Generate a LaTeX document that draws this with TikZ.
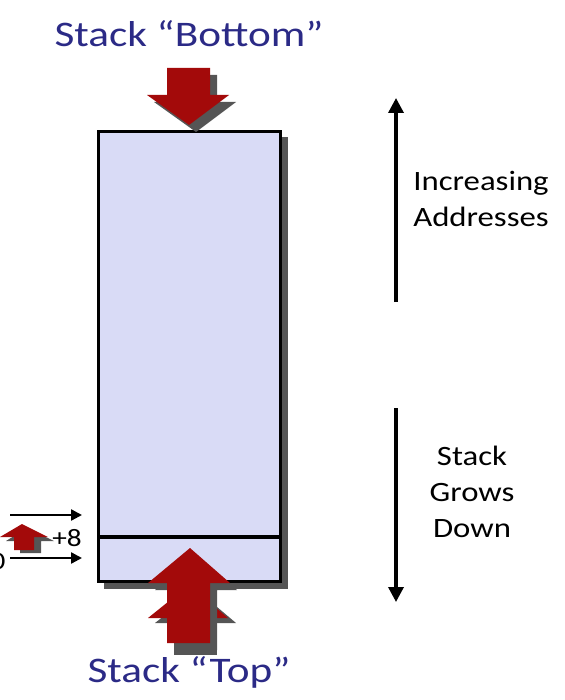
\documentclass[tikz,border=0pt]{standalone}
\usepackage{fontspec}
\setmainfont{Carlito}
\newfontfamily\widefont[FakeStretch=1.17]{Carlito}
\newfontfamily\titlefont[FakeStretch=1.2]{Carlito}
\usetikzlibrary{arrows.meta}
\definecolor{stackfill}{HTML}{D9DBF6}
\definecolor{darkred}{HTML}{A30A0A}
\definecolor{shadowgray}{HTML}{555555}
\definecolor{titleblue}{HTML}{2B2A86}
\tikzset{
  stackbox/.style={draw=black, line width=3.2pt, fill=stackfill, inner sep=0pt},
  shadowbox/.style={fill=shadowgray, draw=none},
  redarrow/.style={fill=darkred, draw=none},
  shadowarrow/.style={fill=shadowgray, draw=none},
  title/.style={text=titleblue, font=\titlefont\fontsize{36}{40}\selectfont, inner sep=0pt},
  sidetext/.style={font=\widefont\fontsize{28}{36}\selectfont, align=center, inner sep=0pt},
  bigarrow/.style={line width=3.4pt, -{Triangle[length=15pt,width=15pt]}},
  smallarrow/.style={line width=2.4pt, -{Triangle[length=11pt,width=11pt]}},
}
\begin{document}
\begin{tikzpicture}[x=1pt,y=-1pt]
\useasboundingbox (0,0) rectangle (564,700);
% rectangle shadow
\fill[shadowbox] (104,137) rectangle (288,589);
\node (stack) [stackbox, minimum width=182pt, minimum height=450pt, anchor=north west] at (97,130) {};
\coordinate (divL) at (97,537);
\coordinate (divR) at (279,537);
\draw[line width=3.2pt] (divL) -- (divR);
% top arrow
\fill[shadowarrow] (174,75) -- (217,75) -- (217,102) -- (236,102) -- (196,132) -- (154,102) -- (174,102) -- cycle;
\fill[redarrow] (167,68) -- (210,68) -- (210,95) -- (229,95) -- (189,125) -- (147,95) -- (167,95) -- cycle;
% bottom arrows (second arrow behind)
\fill[shadowarrow] (174,620) -- (217,620) -- (217,655) -- (174,655) -- cycle;
\fill[shadowarrow] (155,623) -- (197,590) -- (236,623) -- cycle;
\fill[redarrow] (148,618) -- (189,585) -- (228,618) -- cycle;
\fill[shadowarrow] (174,590) -- (155,590) -- (197,555) -- (237,590) -- (217,590) -- (217,650) -- (174,650) -- cycle;
\fill[redarrow] (167,583) -- (148,583) -- (190,548) -- (230,583) -- (210,583) -- (210,643) -- (167,643) -- cycle;
% titles
\node[title] (bottomlbl) at (189,34) {Stack “Bottom”};
\node[title] (toplbl) at (189,672) {Stack “Top”};
% right arrows
\coordinate (upS) at (396,302);
\coordinate (upE) at (396,98);
\draw[bigarrow] (upS) -- (upE);
\coordinate (dnS) at (396,408);
\coordinate (dnE) at (396,602);
\draw[bigarrow] (dnS) -- (dnE);
\node[sidetext] (incr) at (481,199) {Increasing\\Addresses};
\node[sidetext] (grow) at (472,492) {Stack\\Grows\\Down};
% left small items
\coordinate (a1S) at (10,515);
\coordinate (a1E) at (82,515);
\draw[smallarrow] (a1S) -- (a1E);
\coordinate (a2S) at (10,558);
\coordinate (a2E) at (82,558);
\draw[smallarrow] (a2S) -- (a2E);
\fill[shadowarrow] (20,541) -- (6,541) -- (27,528) -- (54,541) -- (41,541) -- (41,553) -- (20,553) -- cycle;
\fill[redarrow] (14,537) -- (0,537) -- (22,524) -- (48,537) -- (34,537) -- (34,550) -- (14,550) -- cycle;
\node[font=\widefont\fontsize{25}{28}\selectfont, inner sep=0pt] (plus8) at (67,538) {+8};
\node[font=\widefont\fontsize{25}{28}\selectfont, inner sep=0pt] (zero) at (-2,561) {0};
\end{tikzpicture}
\end{document}
